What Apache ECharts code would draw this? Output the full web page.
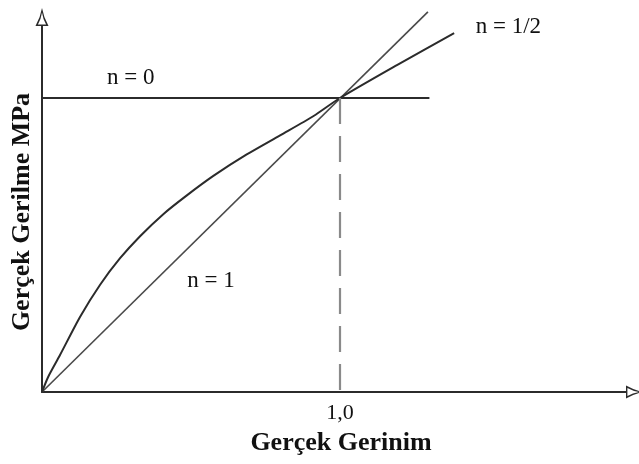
<!DOCTYPE html>
<html>
<head>
<meta charset="utf-8">
<script src="https://cdn.jsdelivr.net/npm/echarts@6/dist/echarts.min.js"></script>
<style>
  html, body { margin: 0; padding: 0; background: #fff; }
  #chart { width: 639px; height: 464px; }
</style>
</head>
<body>
<div id="chart"></div>
<script>
// Strain-hardening curves: true stress vs true strain for n = 0, 1/2, 1
const xTitle = 'Gerçek Gerinim';
const yTitle = 'Gerçek Gerilme MPa';
const xTickLabel = '1,0';

// n = 0 : constant stress
const curveN0 = [[0, 1], [1.3, 1]];
// n = 1 : linear
const curveN1 = [[0, 0], [1.295, 1.293]];
// n = 1/2 : parabolic hardening
const curveHalf = [
  [0, 0], [0.021, 0.052], [0.060, 0.125], [0.128, 0.256], [0.195, 0.365],
  [0.262, 0.455], [0.329, 0.530], [0.407, 0.605], [0.485, 0.668],
  [0.575, 0.735], [0.687, 0.808], [0.799, 0.873], [0.910, 0.938],
  [1.0, 1.0], [1.191, 1.112], [1.383, 1.221]
];
// dashed guide at strain 1,0
const guide = [[1, 1], [1, 0]];

const curveLabels = [
  { text: 'n = 0', at: [0.298, 1.068] },
  { text: 'n = 1', at: [0.567, 0.378] },
  { text: 'n = 1/2', at: [1.565, 1.241] }
];

// hollow arrow head (outer contour clockwise, inner contour reversed -> hole)
const hollowArrow = 'path://M6.5 0 Q8 9 13 18 L0 18 Q5 9 6.5 0 Z M6.5 4.5 Q5.6 11 2.4 16.6 L10.6 16.6 Q7.4 11 6.5 4.5 Z';

const serif = '"Liberation Serif", "DejaVu Serif", serif';
const ink = '#2b2b2b';

const chart = echarts.init(document.getElementById('chart'), null, { renderer: 'canvas' });

function labelPoint(item) {
  return {
    coord: item.at,
    symbol: 'circle',
    symbolSize: 1,
    itemStyle: { color: 'rgba(0,0,0,0)' },
    label: {
      show: true,
      position: 'inside',
      formatter: item.text,
      fontFamily: serif,
      fontSize: 23,
      color: '#111'
    }
  };
}

chart.setOption({
  animation: false,
  backgroundColor: '#fff',
  grid: { left: 42, right: 13, top: 26, bottom: 72, containLabel: false },
  xAxis: {
    type: 'value',
    min: 0,
    max: 1.9597,
    interval: 1,
    name: xTitle,
    nameLocation: 'middle',
    nameGap: 38,
    nameTextStyle: { fontFamily: serif, fontWeight: 'bold', fontSize: 26, color: '#111', padding: [0, 0, 0, 14] },
    axisLine: {
      show: true,
      symbol: ['none', hollowArrow],
      symbolSize: [13, 18],
      symbolOffset: [0, 9],
      lineStyle: { color: ink, width: 2 }
    },
    axisTick: { show: false },
    splitLine: { show: false },
    axisLabel: {
      showMaxLabel: false,
      margin: 10,
      fontFamily: serif,
      fontSize: 22,
      color: '#111',
      formatter: v => (Math.abs(v - 1) < 1e-9 ? xTickLabel : '')
    }
  },
  yAxis: {
    type: 'value',
    min: 0,
    max: 1.2449,
    name: yTitle,
    nameLocation: 'middle',
    nameGap: 7,
    nameTextStyle: { fontFamily: serif, fontWeight: 'bold', fontSize: 26, color: '#111', padding: [0, 6, 0, 0] },
    axisLine: {
      show: true,
      symbol: ['none', hollowArrow],
      symbolSize: [13, 18],
      symbolOffset: [0, 9],
      lineStyle: { color: ink, width: 2 }
    },
    axisTick: { show: false },
    splitLine: { show: false },
    axisLabel: { show: false }
  },
  series: [
    {
      name: 'n = 0',
      type: 'line',
      data: curveN0,
      clip: false,
      symbol: 'none',
      lineStyle: { color: ink, width: 2 },
      markPoint: { data: [labelPoint(curveLabels[0])] }
    },
    {
      name: 'n = 1',
      type: 'line',
      data: curveN1,
      clip: false,
      symbol: 'none',
      lineStyle: { color: '#4a4a4a', width: 1.6 },
      markPoint: { data: [labelPoint(curveLabels[1])] }
    },
    {
      name: 'n = 1/2',
      type: 'line',
      data: curveHalf,
      clip: false,
      smooth: 0.25,
      symbol: 'none',
      lineStyle: { color: ink, width: 2 },
      markPoint: { data: [labelPoint(curveLabels[2])] }
    },
    {
      name: 'guide',
      type: 'line',
      data: guide,
      symbol: 'none',
      lineStyle: { color: '#8a8a8a', width: 2.2, type: [26, 12] }
    }
  ]
});
</script>
</body>
</html>
